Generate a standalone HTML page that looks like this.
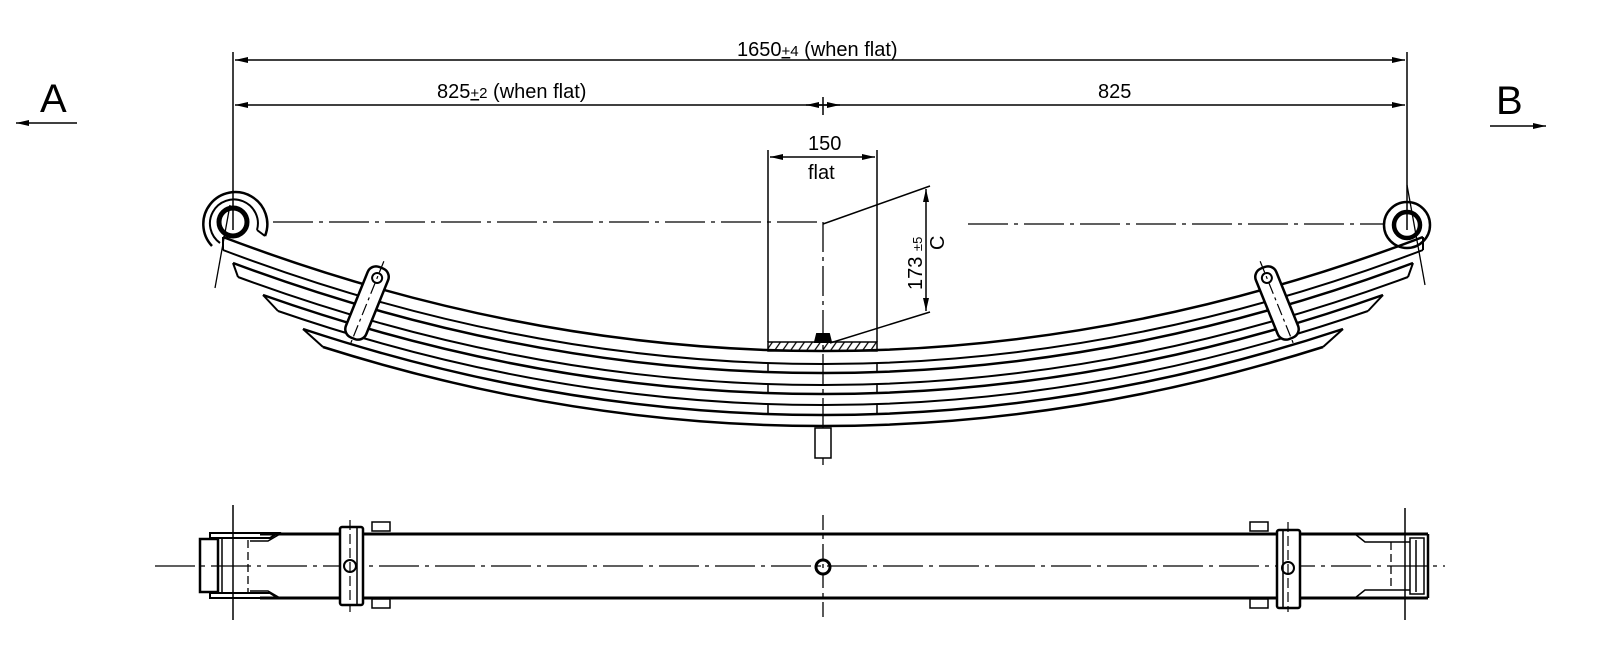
<!DOCTYPE html>
<html><head><meta charset="utf-8"><style>
html,body{margin:0;padding:0;background:#fff;}
svg{display:block}
text{font-family:"Liberation Sans",Arial,sans-serif;fill:#000}
</style></head><body>
<svg width="1600" height="668" viewBox="0 0 1600 668" xmlns="http://www.w3.org/2000/svg">
<defs>
<marker id="ar" markerWidth="14" markerHeight="8" refX="13" refY="4" orient="auto" markerUnits="userSpaceOnUse">
<path d="M0,1 L13,4 L0,7 Z" fill="#000"/></marker>
<pattern id="hatch" width="8" height="10" patternUnits="userSpaceOnUse" patternTransform="skewX(-35)">
<line x1="4" y1="0" x2="4" y2="10" stroke="#000" stroke-width="1.5"/></pattern>
</defs>
<g stroke="#000" fill="none" stroke-width="2">
<!-- A / B -->
<text x="40" y="112" font-size="40" stroke="none">A</text>
<line x1="77" y1="123" x2="16" y2="123" marker-end="url(#ar)" stroke-width="1.5"/>
<text x="1496" y="114" font-size="40" stroke="none">B</text>
<line x1="1490" y1="126" x2="1546" y2="126" marker-end="url(#ar)" stroke-width="1.5"/>

<!-- dimensions -->
<line x1="233" y1="52" x2="233" y2="230" stroke-width="1.5"/>
<line x1="1407" y1="52" x2="1407" y2="230" stroke-width="1.5"/>
<line x1="823" y1="60" x2="235" y2="60" marker-end="url(#ar)" stroke-width="1.5"/>
<line x1="823" y1="60" x2="1405" y2="60" marker-end="url(#ar)" stroke-width="1.5"/>
<line x1="823" y1="105" x2="235" y2="105" marker-end="url(#ar)" stroke-width="1.5"/>
<line x1="823" y1="105" x2="1405" y2="105" marker-end="url(#ar)" stroke-width="1.5"/>
<line x1="823" y1="105" x2="806" y2="105" marker-end="url(#ar)" stroke-width="1.5"/>
<line x1="823" y1="105" x2="840" y2="105" marker-end="url(#ar)" stroke-width="1.5"/>
<line x1="823" y1="97" x2="823" y2="115" stroke-width="1.5"/>
<text x="737" y="56" font-size="20" stroke="none">1650<tspan font-size="15" text-decoration="underline">+</tspan><tspan font-size="15">4</tspan> (when flat)</text>
<text x="437" y="98" font-size="20" stroke="none">825<tspan font-size="15" text-decoration="underline">+</tspan><tspan font-size="15">2</tspan> (when flat)</text>
<text x="1098" y="98" font-size="20" stroke="none">825</text>

<!-- 150 flat -->
<line x1="768" y1="150" x2="768" y2="342" stroke-width="1.5"/>
<line x1="877" y1="150" x2="877" y2="342" stroke-width="1.5"/>
<line x1="823" y1="157" x2="770" y2="157" marker-end="url(#ar)" stroke-width="1.5"/>
<line x1="823" y1="157" x2="875" y2="157" marker-end="url(#ar)" stroke-width="1.5"/>
<text x="808" y="150" font-size="20" stroke="none">150</text>
<text x="808" y="179" font-size="20" stroke="none">flat</text>

<!-- 173 C -->
<line x1="823" y1="224" x2="930" y2="186" stroke-width="1.5"/>
<line x1="830" y1="343" x2="930" y2="312" stroke-width="1.5"/>
<line x1="926" y1="250" x2="926" y2="189" marker-end="url(#ar)" stroke-width="1.5"/>
<line x1="926" y1="250" x2="926" y2="311" marker-end="url(#ar)" stroke-width="1.5"/>
<text transform="translate(922,290) rotate(-90)" font-size="20" stroke="none">173 <tspan font-size="13">±5</tspan></text>
<text transform="translate(944,250) rotate(-90)" font-size="20" stroke="none">C</text>

<!-- centerlines -->
<line x1="273" y1="222" x2="823" y2="222" stroke-width="1.3" stroke-dasharray="40,6,4,6"/>
<line x1="968" y1="224" x2="1385" y2="224" stroke-width="1.3" stroke-dasharray="40,6,4,6"/>
<line x1="823" y1="222" x2="823" y2="465" stroke-width="1.3" stroke-dasharray="30,5,4,5"/>

<!-- left eye -->
<circle cx="233" cy="222" r="14" stroke-width="5"/>
<path d="M 212 246 A 32 32 0 1 1 265 236" stroke-width="2.5"/>
<path d="M 220 243 A 24 24 0 1 1 257 230" stroke-width="2"/>
<line x1="265" y1="236" x2="257" y2="230"/>
<line x1="230" y1="205" x2="215" y2="288" stroke-width="1.3"/>
<!-- right eye -->
<circle cx="1407" cy="225" r="13" stroke-width="4.5"/>
<circle cx="1407" cy="225" r="23" stroke-width="2.5"/>
<line x1="1407" y1="185" x2="1425" y2="285" stroke-width="1.3"/>

<!-- leaves -->
<path d="M223 237 Q823 465 1423 237" stroke-width="2.5"/>
<path d="M223 250 Q823 478 1423 250"/>
<path d="M233 263 Q823 483 1413 263" stroke-width="2.5"/>
<path d="M238 277 Q823 493 1408 277"/>
<path d="M263 295 Q823 493 1383 295" stroke-width="2.5"/>
<path d="M278 311 Q823 499 1368 311"/>
<path d="M303 329 Q823 501 1343 329" stroke-width="2.5"/>
<path d="M323 347 Q823 505 1323 347" stroke-width="2.5"/>
<line x1="223" y1="237" x2="223" y2="250"/><line x1="1423" y1="237" x2="1423" y2="250"/>
<line x1="233" y1="263" x2="238" y2="277"/><line x1="1413" y1="263" x2="1408" y2="277"/>
<line x1="263" y1="295" x2="278" y2="311"/><line x1="1383" y1="295" x2="1368" y2="311"/>
<line x1="303" y1="329" x2="323" y2="347"/><line x1="1343" y1="329" x2="1323" y2="347"/>
<g stroke-width="1.5">
<line x1="768" y1="364" x2="768" y2="373"/><line x1="877" y1="364" x2="877" y2="373"/>
<line x1="768" y1="385" x2="768" y2="394"/><line x1="877" y1="385" x2="877" y2="394"/>
<line x1="768" y1="405" x2="768" y2="415"/><line x1="877" y1="405" x2="877" y2="415"/>
</g>
<!-- plate -->
<rect x="768" y="342" width="109" height="9" fill="url(#hatch)" stroke-width="1.5"/>
<path d="M815 342 L817 334 L829 334 L831 342 Z" fill="#000"/>
<rect x="815" y="428" width="16" height="30" fill="#fff" stroke-width="1.5"/>

<!-- clips side view -->
<g transform="translate(367,303) rotate(22)">
<rect x="-11" y="-38" width="22" height="76" rx="9" fill="#fff" stroke-width="2.5"/>
<circle cx="0" cy="-27" r="5" stroke-width="2"/>
<line x1="0" y1="-45" x2="0" y2="45" stroke-width="1.2" stroke-dasharray="12,4,3,4"/>
</g>
<g transform="translate(1277,303) rotate(-22)">
<rect x="-11" y="-38" width="22" height="76" rx="9" fill="#fff" stroke-width="2.5"/>
<circle cx="0" cy="-27" r="5" stroke-width="2"/>
<line x1="0" y1="-45" x2="0" y2="45" stroke-width="1.2" stroke-dasharray="12,4,3,4"/>
</g>

<!-- bottom view -->
<line x1="155" y1="566" x2="1445" y2="566" stroke-width="1.2" stroke-dasharray="40,6,4,6"/>
<line x1="233" y1="505" x2="233" y2="620" stroke-width="1.5"/>
<line x1="1405" y1="508" x2="1405" y2="620" stroke-width="1.5"/>
<line x1="823" y1="515" x2="823" y2="620" stroke-width="1.3" stroke-dasharray="15,5,4,5"/>
<line x1="260" y1="534" x2="1380" y2="534" stroke-width="3"/>
<line x1="260" y1="598" x2="1380" y2="598" stroke-width="3"/>
<circle cx="823" cy="567" r="7" stroke-width="3"/>
<!-- left end -->
<rect x="200" y="539" width="18" height="53" stroke-width="2.5"/>
<path d="M210 539 L210 533 L278 533 L270 538 L210 538" stroke-width="2"/>
<path d="M210 592 L210 598 L278 598 L270 593 L210 593" stroke-width="2"/>
<path d="M260 534 L280 534 L268 541 L250 541" stroke-width="1.5"/>
<path d="M260 598 L280 598 L268 591 L250 591" stroke-width="1.5"/>
<line x1="222" y1="538" x2="222" y2="593" stroke-width="1.5"/>
<line x1="248" y1="540" x2="248" y2="592" stroke-width="1.3" stroke-dasharray="8,4"/>
<!-- right end -->
<line x1="1380" y1="534" x2="1428" y2="534" stroke-width="3"/>
<line x1="1380" y1="598" x2="1428" y2="598" stroke-width="3"/>
<line x1="1428" y1="534" x2="1428" y2="598" stroke-width="2.5"/>
<rect x="1410" y="538" width="14" height="56" stroke-width="1.5"/>
<line x1="1416" y1="540" x2="1416" y2="592" stroke-width="1.5"/>
<path d="M1355 534 L1365 542 L1410 542 M1355 598 L1365 590 L1410 590" stroke-width="1.5"/>
<line x1="1391" y1="542" x2="1391" y2="590" stroke-width="1.3" stroke-dasharray="8,4"/>
<!-- clips bottom view -->
<rect x="372" y="522" width="18" height="9" stroke-width="1.5"/>
<rect x="372" y="599" width="18" height="9" stroke-width="1.5"/>
<rect x="340" y="527" width="23" height="78" rx="2" fill="#fff" stroke-width="2.5"/>
<line x1="357" y1="528" x2="357" y2="604" stroke-width="1.5"/>
<circle cx="350" cy="566" r="6" stroke-width="2"/>
<line x1="350" y1="520" x2="350" y2="612" stroke-width="1.2" stroke-dasharray="10,4"/>
<rect x="1250" y="522" width="18" height="9" stroke-width="1.5"/>
<rect x="1250" y="599" width="18" height="9" stroke-width="1.5"/>
<rect x="1277" y="530" width="23" height="78" rx="2" fill="#fff" stroke-width="2.5"/>
<line x1="1283" y1="531" x2="1283" y2="607" stroke-width="1.5"/>
<circle cx="1288" cy="568" r="6" stroke-width="2"/>
<line x1="1288" y1="522" x2="1288" y2="612" stroke-width="1.2" stroke-dasharray="10,4"/>
</g>
</svg>
</body></html>
